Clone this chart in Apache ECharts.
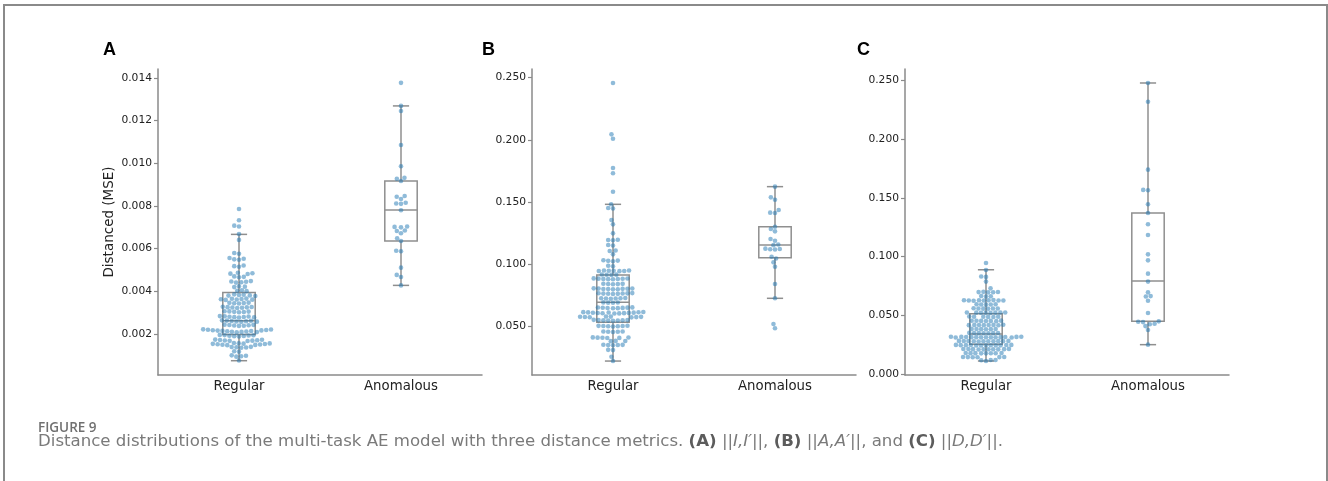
<!DOCTYPE html>
<html>
<head>
<meta charset="utf-8">
<script src="https://cdn.jsdelivr.net/npm/echarts@6/dist/echarts.min.js"></script>
<style>
  html, body { margin: 0; padding: 0; background: #fff; }
  #chart { width: 1328px; height: 481px; }
</style>
</head>
<body>
<div id="chart"></div>
<script>
const categories = ['Regular', 'Anomalous'];

const ticksA = [0.002, 0.004, 0.006, 0.008, 0.010, 0.012, 0.014];
const ticksB = [0.05, 0.10, 0.15, 0.20, 0.25];
const ticksC = [0, 0.05, 0.10, 0.15, 0.20, 0.25];

// box stats per category: [lower whisker, q1, median, q3, upper whisker]
const boxA = [[0.00075, 0.00198, 0.00262, 0.00395, 0.00667], [0.00428, 0.00636, 0.00781, 0.00917, 0.01269]];
const boxB = [[0.0224, 0.0535, 0.0696, 0.0915, 0.1483], [0.0728, 0.1054, 0.1156, 0.1303, 0.1625]];
const boxC = [[0.0113, 0.0255, 0.0343, 0.0515, 0.0889], [0.0252, 0.0451, 0.0793, 0.1372, 0.2477]];

const regularA = [
  0.00786, 0.00733, 0.00708, 0.00704, 0.00669, 0.00641, 0.00580, 0.00576,
  0.00556, 0.00553, 0.00550, 0.00548, 0.00521, 0.00518, 0.00515,
  0.00487, 0.00485, 0.00483, 0.00481, 0.00470, 0.00468, 0.00466,
  0.00448, 0.00446, 0.00445, 0.00443, 0.00441, 0.00424, 0.00422, 0.00420,
  0.00405, 0.00403, 0.00401,
  0.00386, 0.00384, 0.00383, 0.00381, 0.00380, 0.00378,
  0.00366, 0.00365, 0.00364, 0.00363, 0.00362, 0.00361, 0.00360,
  0.00347, 0.00346, 0.00345, 0.00344, 0.00343,
  0.00328, 0.00327, 0.00326, 0.00325, 0.00324, 0.00323, 0.00322,
  0.00307, 0.00306, 0.00305, 0.00304, 0.00303, 0.00302,
  0.00284, 0.00283, 0.00282, 0.00281, 0.00280, 0.00279, 0.00278, 0.00277,
  0.00264, 0.00263, 0.00262, 0.00261, 0.00260, 0.00259, 0.00258, 0.00257,
  0.00244, 0.00243, 0.00242, 0.00241, 0.00240, 0.00239, 0.00238,
  0.00222, 0.00221, 0.00220, 0.00219, 0.00218, 0.00217, 0.00216, 0.00215,
  0.00214, 0.00213, 0.00212, 0.00211, 0.00210, 0.00209, 0.00208,
  0.00196, 0.00195, 0.00194, 0.00193, 0.00192, 0.00191, 0.00190, 0.00189,
  0.00174, 0.00173, 0.00172, 0.00171, 0.00170, 0.00169, 0.00168, 0.00167,
  0.00158, 0.00157, 0.00156, 0.00155, 0.00154, 0.00153, 0.00152, 0.00151, 0.00150, 0.00149, 0.00148,
  0.00140, 0.00139, 0.00138, 0.00137, 0.00136,
  0.00119, 0.00117,
  0.00100, 0.00098, 0.00096, 0.00094,
  0.00076
];
const anomalousA = [
  0.01377, 0.01269, 0.01245, 0.01086, 0.00986, 0.00932, 0.00928, 0.00917,
  0.00847, 0.00843, 0.00833, 0.00815, 0.00812, 0.00810, 0.00780,
  0.00704, 0.00702, 0.00700, 0.00685, 0.00683, 0.00672, 0.00649, 0.00636,
  0.00590, 0.00588, 0.00511, 0.00477, 0.00467, 0.00428
];

const regularB = [
  0.2457, 0.2045, 0.2010, 0.1775, 0.1732, 0.1584, 0.1483, 0.1453, 0.1449,
  0.1357, 0.1322, 0.1250, 0.1198, 0.1196, 0.1194, 0.1156, 0.1152, 0.1112, 0.1108,
  0.1081, 0.1034, 0.1031, 0.1029, 0.1026, 0.0990, 0.0986,
  0.0952, 0.0951, 0.0950, 0.0949, 0.0948, 0.0947, 0.0946,
  0.0919, 0.0918, 0.0917, 0.0916,
  0.0888, 0.0887, 0.0886, 0.0885, 0.0884, 0.0883, 0.0882, 0.0881,
  0.0845, 0.0844, 0.0843, 0.0842, 0.0841,
  0.0808, 0.0807, 0.0806, 0.0805, 0.0804, 0.0803, 0.0802, 0.0801, 0.0800,
  0.0770, 0.0769, 0.0768, 0.0767, 0.0766, 0.0765, 0.0764, 0.0763,
  0.0730, 0.0729, 0.0728, 0.0727, 0.0726, 0.0725,
  0.0695, 0.0694, 0.0693, 0.0692,
  0.0655, 0.0654, 0.0653, 0.0652, 0.0651, 0.0650, 0.0649, 0.0648,
  0.0618, 0.0617, 0.0616, 0.0615, 0.0614, 0.0613, 0.0612, 0.0611, 0.0610, 0.0609, 0.0608, 0.0607, 0.0606,
  0.0582, 0.0581, 0.0580, 0.0579, 0.0578, 0.0577, 0.0576, 0.0575,
  0.0555, 0.0554, 0.0553, 0.0552, 0.0551, 0.0550, 0.0549, 0.0548,
  0.0508, 0.0507, 0.0506, 0.0505, 0.0504, 0.0503, 0.0502,
  0.0462, 0.0461, 0.0460, 0.0459, 0.0458,
  0.0414, 0.0413, 0.0412, 0.0411, 0.0410, 0.0409,
  0.0386, 0.0385, 0.0384,
  0.0355, 0.0354, 0.0353, 0.0352, 0.0351,
  0.0314, 0.0312, 0.0259, 0.0224
];
const anomalousB = [
  0.1625, 0.1539, 0.1520, 0.1437, 0.1416, 0.1413, 0.1303, 0.1285, 0.1266,
  0.1204, 0.1190, 0.1160, 0.1155, 0.1127, 0.1124, 0.1122, 0.1120, 0.1062,
  0.1048, 0.1017, 0.0982, 0.0843, 0.0728, 0.0522, 0.0487
];

const regularC = [
  0.0946, 0.0887, 0.0832, 0.0828, 0.0788, 0.0731,
  0.0701, 0.0700, 0.0699, 0.0698, 0.0697,
  0.0666, 0.0664, 0.0662,
  0.0631, 0.0630, 0.0629, 0.0629, 0.0628, 0.0628, 0.0627, 0.0627, 0.0626,
  0.0596, 0.0595, 0.0594, 0.0593, 0.0592,
  0.0561, 0.0560, 0.0559, 0.0559, 0.0558, 0.0557,
  0.0526, 0.0525, 0.0525, 0.0524, 0.0524, 0.0523, 0.0523, 0.0522,
  0.0491, 0.0490, 0.0489, 0.0489, 0.0488, 0.0487,
  0.0456, 0.0455, 0.0455, 0.0454, 0.0454, 0.0453, 0.0452,
  0.0421, 0.0420, 0.0420, 0.0419, 0.0419, 0.0418, 0.0418, 0.0417,
  0.0386, 0.0385, 0.0385, 0.0384, 0.0384, 0.0383,
  0.0352, 0.0351, 0.0351, 0.0350, 0.0350, 0.0349, 0.0349,
  0.0319, 0.0319, 0.0318, 0.0318, 0.0317, 0.0317, 0.0316, 0.0316,
  0.0316, 0.0315, 0.0315, 0.0314, 0.0314, 0.0313, 0.0313,
  0.0284, 0.0284, 0.0283, 0.0283, 0.0282, 0.0282, 0.0281, 0.0281, 0.0280, 0.0280, 0.0279,
  0.0250, 0.0250, 0.0249, 0.0249, 0.0248, 0.0248, 0.0247, 0.0247, 0.0246, 0.0246, 0.0245, 0.0245,
  0.0216, 0.0215, 0.0215, 0.0214, 0.0214, 0.0213, 0.0213, 0.0212, 0.0212, 0.0211,
  0.0181, 0.0181, 0.0180, 0.0180, 0.0179, 0.0179, 0.0178, 0.0178,
  0.0147, 0.0147, 0.0146, 0.0146, 0.0145, 0.0145,
  0.0122, 0.0121, 0.0120, 0.0113
];
const anomalousC = [
  0.2477, 0.2318, 0.1740, 0.1568, 0.1565, 0.1446, 0.1372, 0.1276, 0.1185,
  0.1020, 0.0969, 0.0856, 0.0788, 0.0697, 0.0665, 0.0661, 0.0626, 0.0521,
  0.0450, 0.0447, 0.0444, 0.0430, 0.0426, 0.0410, 0.0377, 0.0252
];

const panels = [
  { letter: 'A', groups: [regularA, anomalousA], box: boxA, ticks: ticksA, min: 0.00008, max: 0.01442, left: 158 },
  { letter: 'B', groups: [regularB, anomalousB], box: boxB, ticks: ticksB, min: 0.0112, max: 0.2570, left: 532 },
  { letter: 'C', groups: [regularC, anomalousC], box: boxC, ticks: ticksC, min: -0.0006, max: 0.2596, left: 905 }
];

const axisColor = '#8a8a8a';
const dotSize = 4.6;

let chart = echarts.init(document.getElementById('chart'));

function renderBox(params, api) {
  const cat = api.value(0);
  const lo = api.coord([cat, api.value(1)]);
  const q1 = api.coord([cat, api.value(2)]);
  const md = api.coord([cat, api.value(3)]);
  const q3 = api.coord([cat, api.value(4)]);
  const hi = api.coord([cat, api.value(5)]);
  const bw = api.size([1, 0])[0] * 0.2;
  const x = lo[0];
  const st = { stroke: '#8f8f8f', lineWidth: 1.5, fill: null };
  return {
    type: 'group',
    children: [
      { type: 'line', shape: { x1: x, y1: q1[1], x2: x, y2: lo[1] }, style: st },
      { type: 'line', shape: { x1: x, y1: q3[1], x2: x, y2: hi[1] }, style: st },
      { type: 'line', shape: { x1: x - bw / 4, y1: lo[1], x2: x + bw / 4, y2: lo[1] }, style: st },
      { type: 'line', shape: { x1: x - bw / 4, y1: hi[1], x2: x + bw / 4, y2: hi[1] }, style: st },
      { type: 'rect', shape: { x: x - bw / 2, y: q3[1], width: bw, height: q1[1] - q3[1] }, style: { stroke: '#8f8f8f', lineWidth: 1.5, fill: '#fff' } },
      { type: 'line', shape: { x1: x - bw / 2, y1: md[1], x2: x + bw / 2, y2: md[1] }, style: st }
    ]
  };
}

// seaborn-like beeswarm, done in pixel space
function swarmOffsets(ys, d) {
  const order = ys.map((y, i) => i).sort((a, b) => ys[b] - ys[a]);
  const placed = [];
  const out = new Array(ys.length).fill(0);
  order.forEach(i => {
    const y = ys[i];
    const near = placed.filter(p => Math.abs(p.y - y) < d);
    const cands = [0];
    let leftFirst = true;
    near.forEach(p => {
      const dy = y - p.y;
      const dx = Math.sqrt(Math.max(d * d - dy * dy, 0)) * 1.05;
      if (leftFirst) cands.push(p.x - dx, p.x + dx);
      else cands.push(p.x + dx, p.x - dx);
      leftFirst = !leftFirst;
    });
    cands.sort((a, b) => Math.abs(a) - Math.abs(b));
    let x = cands.find(c => near.every(p => (c - p.x) ** 2 + (y - p.y) ** 2 >= d * d * 0.999));
    if (x === undefined) x = 0;
    placed.push({ x: x, y: y });
    out[i] = x;
  });
  return out;
}

const grids = [], xAxes = [], yAxes = [], series = [];
const textCol = '#222';

panels.forEach((p, g) => {
  grids.push({ left: p.left, top: 69, width: 324, height: 306 });
  xAxes.push({
    type: 'category', gridIndex: g, data: categories,
    axisLine: { lineStyle: { color: axisColor, width: 1.5 } },
    axisTick: { alignWithLabel: true, length: 4, lineStyle: { color: axisColor, width: 1.2 } },
    axisLabel: { color: textCol, fontSize: 13.3, fontFamily: 'DejaVu Sans', margin: 5 },
    splitLine: { show: false }
  });
  yAxes.push({
    type: 'value', gridIndex: g, min: p.min, max: p.max,
    axisLine: { show: true, lineStyle: { color: axisColor, width: 1.5 } },
    axisTick: { show: true, length: 4, customValues: p.ticks, lineStyle: { color: axisColor, width: 1.2 } },
    axisLabel: { customValues: p.ticks, formatter: v => v.toFixed(3), color: textCol, fontSize: 10.7, fontFamily: 'DejaVu Sans', margin: 6 },
    splitLine: { show: false },
    name: g === 0 ? 'Distanced (MSE)' : '',
    nameLocation: 'middle', nameGap: 42,
    nameTextStyle: { color: textCol, fontSize: 13.5, fontFamily: 'DejaVu Sans' }
  });
  series.push({
    type: 'custom', xAxisIndex: g, yAxisIndex: g, z: 2,
    renderItem: renderBox,
    encode: { x: 0, y: [1, 2, 3, 4, 5] },
    data: p.box.map((b, i) => [i].concat(b))
  });
  const pts = [];
  p.groups.forEach((vals, i) => vals.forEach(v => pts.push({ value: [i, v] })));
  series.push({
    type: 'scatter', xAxisIndex: g, yAxisIndex: g, z: 3,
    symbolSize: dotSize,
    itemStyle: { color: '#1f77b4', opacity: 0.5 },
    data: pts
  });
});

const capFont = 'DejaVu Sans';
const capSize = 16.6;
const option = {
  animation: false,
  grid: grids,
  xAxis: xAxes,
  yAxis: yAxes,
  series: series,
  graphic: [
    { type: 'rect', shape: { x: 4, y: 5, width: 1323, height: 520 }, style: { stroke: '#8a8a8a', lineWidth: 2, fill: null } },
    { type: 'text', x: 103, y: 50, style: { text: 'A', font: 'bold 18px "Liberation Sans", Arial', fill: '#000', textVerticalAlign: 'middle' } },
    { type: 'text', x: 482, y: 50, style: { text: 'B', font: 'bold 18px "Liberation Sans", Arial', fill: '#000', textVerticalAlign: 'middle' } },
    { type: 'text', x: 857, y: 50, style: { text: 'C', font: 'bold 18px "Liberation Sans", Arial', fill: '#000', textVerticalAlign: 'middle' } },
    { type: 'text', x: 38, y: 428, style: { text: 'FIGURE 9', font: '600 13.5px "Open Sans"', fill: '#707070', textVerticalAlign: 'middle' } },
    {
      type: 'text', x: 38, y: 442,
      style: {
        text: '{n|Distance distributions of the multi-task AE model with three distance metrics. }{b|(A)}{n| ||}{i|I,I′}{n|||, }{b|(B)}{n| ||}{i|A,A′}{n|||, and }{b|(C)}{n| ||}{i|D,D′}{n|||.}',
        textVerticalAlign: 'middle',
        rich: {
          n: { fontFamily: capFont, fontSize: capSize, fill: '#7a7a7a' },
          b: { fontFamily: capFont, fontSize: capSize, fontWeight: 'bold', fill: '#5c5c5c' },
          i: { fontFamily: capFont, fontSize: capSize, fontStyle: 'italic', fill: '#7a7a7a' }
        }
      }
    }
  ]
};

chart.setOption(option);

// second pass: swarm offsets from the axis scales
panels.forEach((p, g) => {
  const s = series[g * 2 + 1];
  let k = 0;
  p.groups.forEach((vals, i) => {
    const ys = vals.map(v => chart.convertToPixel({ gridIndex: g }, [i, v])[1]);
    const dx = swarmOffsets(ys, dotSize);
    vals.forEach((v, j) => { s.data[k + j].symbolOffset = [dx[j], 0]; });
    k += vals.length;
  });
});
chart.setOption({ series: series });

window.addEventListener('resize', function () {
  chart.resize();
});
</script>
</body>
</html>
